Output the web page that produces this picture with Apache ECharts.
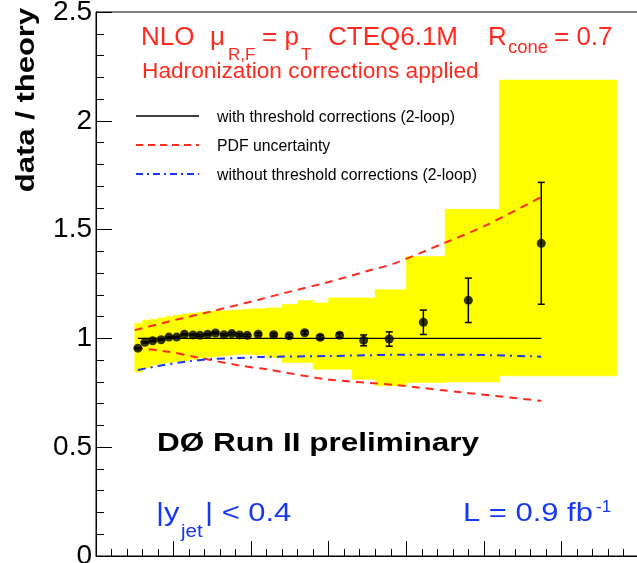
<!DOCTYPE html>
<html>
<head>
<meta charset="utf-8">
<script src="https://cdn.jsdelivr.net/npm/echarts@6/dist/echarts.min.js"></script>
<style>
  html, body { margin: 0; padding: 0; background: #fff; }
  #chart { width: 637px; height: 563px; }
</style>
</head>
<body>
<div id="chart"></div>
<script>
// measured points: jet pT (GeV), data / theory, stat. error
const ptPoints = [54, 63, 73, 84, 94, 104, 114, 125, 134, 144, 154, 165, 175, 185, 195,
  209, 229, 249, 269, 289, 314, 345, 378, 422, 480, 574];
const ratio = [0.955, 0.982, 0.989, 0.994, 1.006, 1.006, 1.019, 1.016, 1.014, 1.019, 1.025,
  1.017, 1.022, 1.016, 1.014, 1.019, 1.017, 1.012, 1.026, 1.005, 1.014, 0.991, 0.997,
  1.074, 1.175, 1.437];
const ratioErr = [0.003, 0.003, 0.003, 0.003, 0.003, 0.003, 0.003, 0.003, 0.004, 0.004,
  0.004, 0.004, 0.005, 0.005, 0.005, 0.006, 0.006, 0.007, 0.008, 0.009, 0.011, 0.025,
  0.033, 0.056, 0.102, 0.28];

// systematic uncertainty band (yellow), bin edges in GeV
const bandEdges = [50, 60, 70, 80, 90, 100, 110, 120, 130, 140, 150, 160, 170, 180, 190,
  200, 220, 240, 260, 280, 300, 330, 360, 400, 450, 520, 671];
const bandLow = [0.846, 0.866, 0.878, 0.885, 0.889, 0.893, 0.898, 0.904, 0.910, 0.914,
  0.917, 0.920, 0.924, 0.927, 0.927, 0.925, 0.912, 0.889, 0.889, 0.858, 0.858, 0.812,
  0.782, 0.797, 0.800, 0.828];
const bandHigh = [1.069, 1.084, 1.088, 1.095, 1.100, 1.107, 1.112, 1.116, 1.120, 1.123,
  1.125, 1.127, 1.129, 1.131, 1.133, 1.136, 1.140, 1.156, 1.174, 1.163, 1.186, 1.186,
  1.224, 1.376, 1.593, 2.187];

// theory curves
const threshX = [54, 574];
const threshY = [1, 1];
const pdfUpX = [50, 100, 150, 210, 250, 300, 350, 385, 450, 500, 574];
const pdfUpY = [1.038, 1.083, 1.125, 1.178, 1.215, 1.259, 1.31, 1.345, 1.44, 1.515, 1.65];
const pdfDnX = [50, 93, 128, 184, 220, 298, 385, 471, 574];
const pdfDnY = [0.957, 0.939, 0.915, 0.876, 0.858, 0.812, 0.786, 0.752, 0.713];
const noThreshX = [54, 80, 115, 150, 185, 215, 300, 400, 470, 574];
const noThreshY = [0.855, 0.873, 0.893, 0.905, 0.910, 0.915, 0.919, 0.925, 0.925, 0.916];

const yTicks = [0, 0.5, 1, 1.5, 2, 2.5];

const RED = "#ff2a1f";
const BLUE = "#1538f5";
const FONT = "'Liberation Sans', Arial, Helvetica, sans-serif";

const pairs = (xs, ys) => xs.map((x, i) => [x, ys[i]]);

// text helper: x = left edge, b = baseline
const txt = (text, x, b, size, color, extra) => Object.assign({
  type: "text",
  x: x,
  y: b - 0.35 * size,
  z: 100,
  style: {
    text: text,
    font: size + "px " + FONT,
    fill: color,
    textAlign: "left",
    textVerticalAlign: "middle",
  },
}, extra || {});

const bold = (el, size) => {
  el.style.font = "bold " + size + "px " + FONT;
  return el;
};

const legendLine = (y, color, dash) => ({
  type: "line",
  z: 100,
  shape: { x1: 136, y1: y, x2: 199, y2: y },
  style: { stroke: color, lineWidth: dash ? 1.8 : 1.4, lineDash: dash || null },
});

const chart = echarts.init(document.getElementById("chart"));

const option = {
  animation: false,
  backgroundColor: "#fff",
  grid: {
    left: 96,
    top: 12,
    right: -2,
    bottom: 7,
    outerBoundsMode: "none",
    containLabel: false,
    show: true,
    borderColor: "#000",
    borderWidth: 1,
    backgroundColor: "transparent",
  },
  xAxis: {
    type: "value",
    min: 0,
    max: 700,
    interval: 100,
    axisLine: { lineStyle: { color: "#000", width: 1 } },
    axisTick: { inside: true, length: 15, lineStyle: { color: "#000" } },
    minorTick: { show: true, splitNumber: 5, length: 7, lineStyle: { color: "#000" } },
    axisLabel: { show: false },
    splitLine: { show: false },
  },
  yAxis: {
    type: "value",
    min: yTicks[0],
    max: yTicks[yTicks.length - 1],
    interval: 0.5,
    axisLine: { show: true, lineStyle: { color: "#000", width: 1 } },
    axisTick: { show: true, inside: true, length: 16, lineStyle: { color: "#000" } },
    minorTick: { show: true, splitNumber: 5, length: 8, lineStyle: { color: "#000" } },
    axisLabel: {
      fontSize: 28,
      fontFamily: FONT,
      color: "#000",
      margin: 4,
    },
    splitLine: { show: false },
  },
  series: [
    {
      name: "band",
      type: "custom",
      data: bandLow.map((lo, i) => [bandEdges[i], bandEdges[i + 1], lo, bandHigh[i]]),
      encode: { x: [0, 1], y: [2, 3] },
      renderItem: (params, api) => {
        const p0 = api.coord([api.value(0), api.value(3)]);
        const p1 = api.coord([api.value(1), api.value(2)]);
        return {
          type: "rect",
          shape: { x: p0[0], y: p0[1], width: p1[0] - p0[0], height: p1[1] - p0[1] },
          style: { fill: "#ffff00", stroke: "#ffff00", lineWidth: 0.6 },
        };
      },
      z: 1,
    },
    {
      name: "with threshold corrections (2-loop)",
      type: "line",
      data: pairs(threshX, threshY),
      showSymbol: false,
      symbol: "none",
      lineStyle: { color: "#000", width: 1.4 },
      z: 2,
    },
    {
      name: "PDF uncertainty up",
      type: "line",
      data: pairs(pdfUpX, pdfUpY),
      smooth: 0.3,
      symbol: "none",
      lineStyle: { color: RED, width: 2, type: [8, 6] },
      z: 3,
    },
    {
      name: "PDF uncertainty down",
      type: "line",
      data: pairs(pdfDnX, pdfDnY),
      smooth: 0.3,
      symbol: "none",
      lineStyle: { color: RED, width: 2, type: [8, 6] },
      z: 3,
    },
    {
      name: "without threshold corrections (2-loop)",
      type: "line",
      data: pairs(noThreshX, noThreshY),
      smooth: 0.3,
      symbol: "none",
      lineStyle: { color: BLUE, width: 2, type: [8, 5, 2, 5] },
      z: 3,
    },
    {
      name: "errors",
      type: "custom",
      data: ptPoints.map((x, i) => [x, ratio[i] - ratioErr[i], ratio[i] + ratioErr[i]]),
      encode: { x: 0, y: [1, 2] },
      renderItem: (params, api) => {
        const lo = api.coord([api.value(0), api.value(1)]);
        const hi = api.coord([api.value(0), api.value(2)]);
        const st = { stroke: "#000", lineWidth: 1.5 };
        return {
          type: "group",
          children: [
            { type: "line", shape: { x1: lo[0], y1: lo[1], x2: hi[0], y2: hi[1] }, style: st },
            { type: "line", shape: { x1: lo[0] - 3.5, y1: lo[1], x2: lo[0] + 3.5, y2: lo[1] }, style: st },
            { type: "line", shape: { x1: hi[0] - 3.5, y1: hi[1], x2: hi[0] + 3.5, y2: hi[1] }, style: st },
          ],
        };
      },
      z: 4,
    },
    {
      name: "data",
      type: "scatter",
      data: pairs(ptPoints, ratio),
      symbol: "circle",
      symbolSize: 9,
      itemStyle: { color: "#000" },
      z: 5,
    },
  ],
  graphic: [
    // y axis title
    {
      type: "text",
      x: 27,
      y: 100,
      rotation: Math.PI / 2,
      scaleX: 1.24,
      z: 100,
      style: {
        text: "data / theory",
        font: "bold 25px " + FONT,
        fill: "#000",
        textAlign: "center",
        textVerticalAlign: "middle",
      },
    },
    // header
    txt("NLO", 141, 46.7, 26, RED),
    txt("\u03bc", 210, 46.7, 26, RED),
    txt("R,F", 228, 61.7, 17, RED),
    txt("= p", 262, 46.7, 26, RED),
    txt("T", 301, 61, 17, RED),
    txt("CTEQ6.1M", 328, 46.7, 26, RED),
    txt("R", 488, 46.7, 26, RED),
    txt("cone", 508, 54, 18.5, RED),
    txt("= 0.7", 554, 46.7, 26, RED),
    txt("Hadronization corrections applied", 142, 80, 22.7, RED),
    // legend
    legendLine(116, "#000", null),
    legendLine(145, RED, [7, 5]),
    legendLine(174, BLUE, [7, 4, 2, 4]),
    txt("with threshold corrections (2-loop)", 217, 122.7, 15.8, "#000"),
    txt("PDF uncertainty", 217, 151.7, 15.8, "#000"),
    txt("without threshold corrections (2-loop)", 217, 181, 15.8, "#000"),
    // experiment label
    bold(txt("D\u00d8 Run II preliminary", 157, 453.3, 25.5, "#000", { scaleX: 1.235 }), 25.5),
    txt("|y", 156, 523.3, 26, BLUE, { scaleX: 1.19 }),
    txt("jet", 181, 538.3, 18, BLUE, { scaleX: 1.14 }),
    txt("| < 0.4", 205, 523.3, 26, BLUE, { scaleX: 1.19 }),
    txt("L = 0.9 fb", 463, 523.3, 26, BLUE, { scaleX: 1.19 }),
    txt("-1", 596, 513.3, 17, BLUE),
  ],
};

chart.setOption(option);
window.addEventListener("resize", () => chart.resize());
</script>
</body>
</html>
